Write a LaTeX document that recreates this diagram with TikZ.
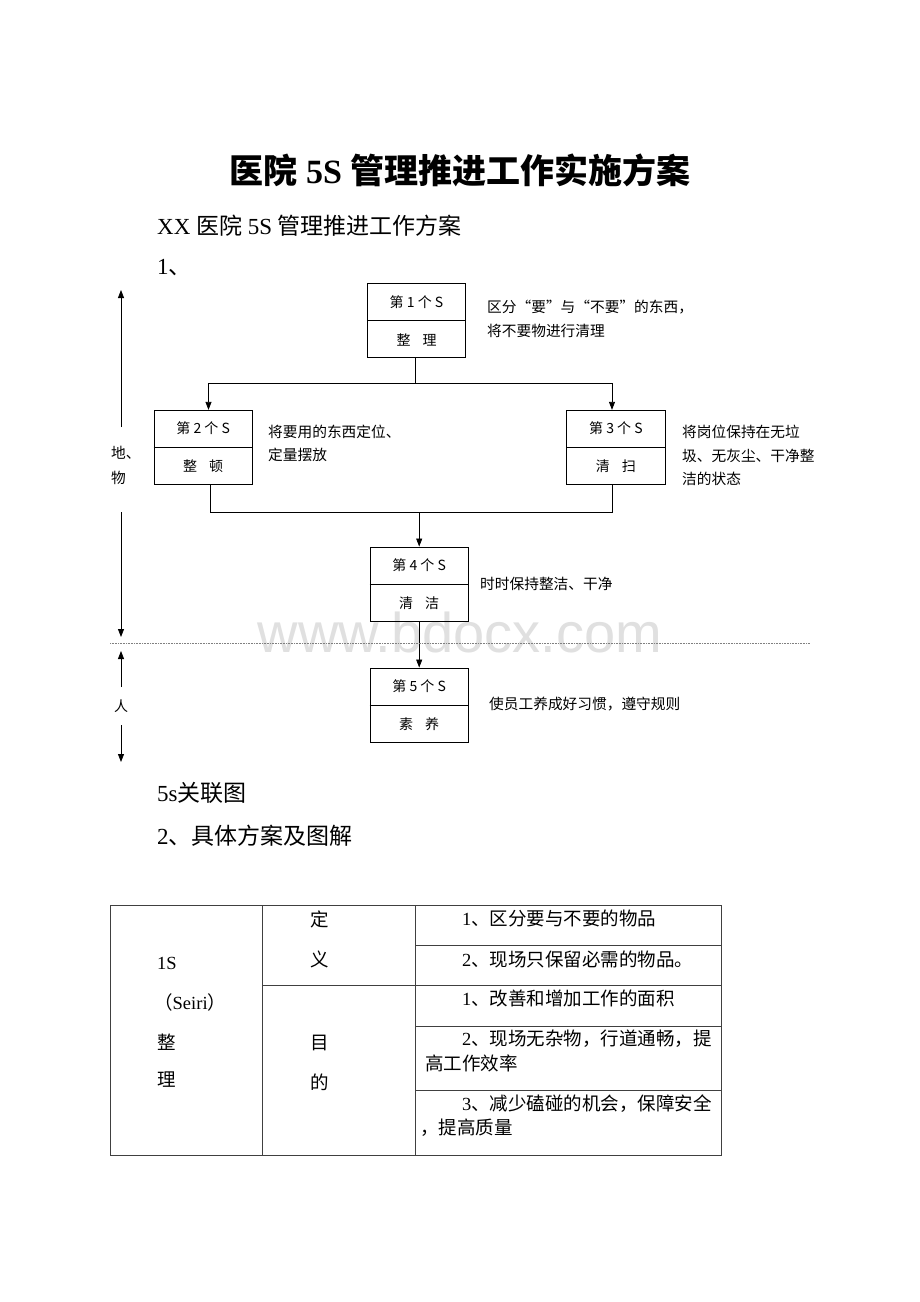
\documentclass[tikz,border=0pt]{standalone}
\usepackage{fontspec}
\setmainfont{Liberation Serif}
\newfontfamily\zhfont{Noto Sans CJK SC}
\newfontfamily\wmfont{Liberation Sans}
\usetikzlibrary{arrows.meta}
\begin{document}
\begin{tikzpicture}[x=1pt,y=-1pt,
 sbox/.style={draw, line width=0.9pt, minimum width=98.4pt, minimum height=74.4pt, inner sep=0},
 btxt/.style={font=\zhfont\fontsize{14}{16}\selectfont, inner sep=0},
 side/.style={font=\zhfont\fontsize{14.7}{23.5}\selectfont, inner sep=0, anchor=west, align=left},
 body/.style={font=\fontsize{23}{28}\selectfont, inner sep=0, anchor=west},
 cell/.style={font=\fontsize{18.5}{24}\selectfont, inner sep=0, anchor=west},
 arr/.style={line width=0.8pt, -{Triangle[length=8pt,width=6pt]}},
 conn/.style={line width=0.8pt},
 tline/.style={line width=0.9pt, draw=black!75}]
\fill[white] (0,0) rectangle (920,1302);
\useasboundingbox (0,0) rectangle (920,1302);

% watermark
\node[font=\wmfont\fontsize{56}{60}\selectfont, text=black!12, anchor=base, inner sep=0] (wm) at (460,652) {www.bdocx.com};

% headings
\node[font=\bfseries\fontsize{34}{40}\selectfont, inner sep=0] (title) at (460,170) {{\zhfont 医院} 5S {\zhfont 管理推进工作实施方案}};
\node[body] (sub) at (157,226) {XX {\zhfont 医院} 5S {\zhfont 管理推进工作方案}};
\node[body] (h1) at (157,268) {1{\zhfont 、}};
\node[body] (cap) at (157,793) {5s{\zhfont 关联图}};
\node[body] (h2) at (157,836) {2{\zhfont 、具体方案及图解}};

% boxes
\node[sbox] (b1) at (416.5,320.5) {};
\draw[conn] (b1.west) -- (b1.east);
\node[btxt] (b1a) at (416.5,302) {第 1 个 S};
\node[btxt] (b1b) at (416.5,339.5) {整\hspace{12pt}理};

\node[sbox] (b2) at (203.2,447.5) {};
\draw[conn] (b2.west) -- (b2.east);
\node[btxt] (b2a) at (203.2,428.5) {第 2 个 S};
\node[btxt] (b2b) at (203.2,466.5) {整\hspace{12pt}顿};

\node[sbox] (b3) at (615.9,447.5) {};
\draw[conn] (b3.west) -- (b3.east);
\node[btxt] (b3a) at (615.9,428.5) {第 3 个 S};
\node[btxt] (b3b) at (615.9,466.5) {清\hspace{12pt}扫};

\node[sbox] (b4) at (419.2,584.2) {};
\draw[conn] (b4.west) -- (b4.east);
\node[btxt] (b4a) at (419.2,565.5) {第 4 个 S};
\node[btxt] (b4b) at (419.2,603) {清\hspace{12pt}洁};

\node[sbox] (b5) at (419.2,705.2) {};
\draw[conn] (b5.west) -- (b5.east);
\node[btxt] (b5a) at (419.2,686.5) {第 5 个 S};
\node[btxt] (b5b) at (419.2,724) {素\hspace{12pt}养};

% side notes
\node[side] (t1) at (487,319) {区分“要”与“不要”的东西，\\将不要物进行清理};
\node[side] (t2) at (268,443.5) {将要用的东西定位、\\定量摆放};
\node[side] (t3) at (682,455.5) {将岗位保持在无垃\\圾、无灰尘、干净整\\洁的状态};
\node[side] (t4) at (480,584) {时时保持整洁、干净};
\node[side] (t5) at (489,704) {使员工养成好习惯，遵守规则};

% connectors
\coordinate (j1) at (415,383.5);
\coordinate (l2) at (208.5,383.5);
\coordinate (l3) at (612,383.5);
\draw[conn] (b1.south -| j1) -- (j1);
\draw[arr] (j1) -| (b2.north -| l2);
\draw[arr] (j1) -| (b3.north -| l3);
\coordinate (m2) at (210,512);
\coordinate (m3) at (612.7,512);
\draw[conn] (b2.south -| m2) -- (m2) -- (m3) -- (b3.south -| m3);
\draw[arr] (m2 -| b4.north) -- (b4.north);
\draw[arr] (b4.south) -- (b5.north);

% left side arrows
\coordinate (u1s) at (121,427);
\coordinate (u1e) at (121,290);
\draw[arr] (u1s) -- (u1e);
\node[side] (lab1) at (111,453) {地、};
\node[side] (lab2) at (111,478) {物};
\coordinate (d1s) at (121,512);
\coordinate (d1e) at (121,637);
\draw[arr] (d1s) -- (d1e);
\coordinate (u2s) at (121,687);
\coordinate (u2e) at (121,651);
\draw[arr] (u2s) -- (u2e);
\node[btxt] (lab3) at (121,706) {人};
\coordinate (d2s) at (121,725);
\coordinate (d2e) at (121,762);
\draw[arr] (d2s) -- (d2e);

% divider
\coordinate (dl) at (110,643.3);
\coordinate (dr) at (810,643.3);
\draw[black!50, line width=0.6pt, dash pattern=on 0.8pt off 0.8pt] (dl) -- (dr);

% table
\draw[tline] (110,905) rectangle (721,1155);
\draw[tline] (262.5,905) -- (262.5,1155);
\draw[tline] (415.5,905) -- (415.5,1155);
\draw[tline] (262.5,985.5) -- (721,985.5);
\draw[tline] (415.5,945) -- (721,945);
\draw[tline] (415.5,1026) -- (721,1026);
\draw[tline] (415.5,1090) -- (721,1090);

\node[cell] (c1) at (157,963) {1S};
\node[cell] (c2) at (154,1002) {{\zhfont （}Seiri{\zhfont ）}};
\node[cell] (c3) at (157,1042) {\zhfont 整};
\node[cell] (c4) at (157,1080) {\zhfont 理};
\node[cell] (c5) at (310,919) {\zhfont 定};
\node[cell] (c6) at (310,959) {\zhfont 义};
\node[cell] (c7) at (310,1043) {\zhfont 目};
\node[cell] (c8) at (310,1082) {\zhfont 的};
\node[cell] (r1) at (462,918) {1{\zhfont 、区分要与不要的物品}};
\node[cell] (r2) at (462,959) {2{\zhfont 、现场只保留必需的物品。}};
\node[cell] (r3) at (462,998) {1{\zhfont 、改善和增加工作的面积}};
\node[cell] (r4) at (462,1039) {2{\zhfont 、现场无杂物，行道通畅，提}};
\node[cell] (r4b) at (425,1063) {\zhfont 高工作效率};
\node[cell] (r5) at (462,1104) {3{\zhfont 、减少磕碰的机会，保障安全}};
\node[cell] (r5b) at (420,1128) {\zhfont ，提高质量};
\end{tikzpicture}
\end{document}
